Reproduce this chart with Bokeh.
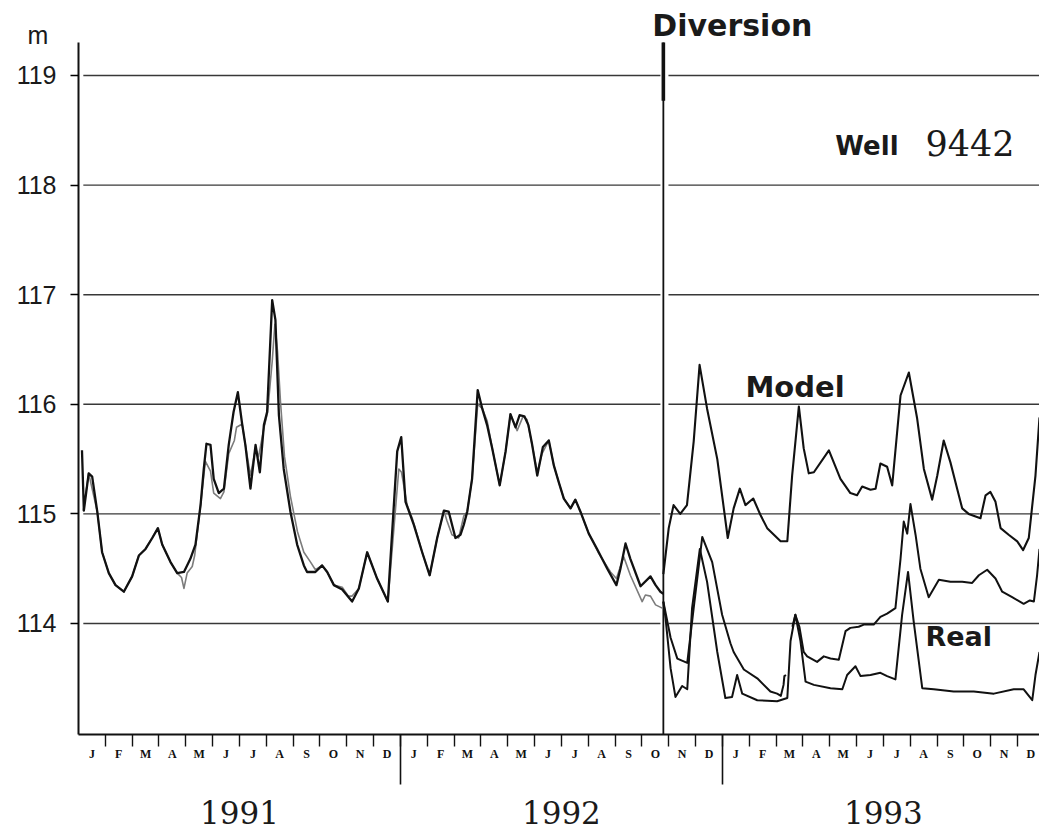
from bokeh.plotting import figure
from bokeh.models import Range1d, FixedTicker, LinearAxis
from bokeh.core.properties import value
from bokeh.embed import file_html
from bokeh.resources import INLINE

# Time axis: months elapsed since 1 January 1991; levels in metres
MONTH_LETTERS = ["J", "F", "M", "A", "M", "J", "J", "A", "S", "O", "N", "D"]
YEARS = ["1991", "1992", "1993"]
LEVEL_TICKS = [114, 115, 116, 117, 118, 119]
DIVERSION = 21.80          # damming of the river, late October 1992
T_START, T_END = 0.0, 35.82
LEVEL_BASE, LEVEL_TOP = 112.99, 119.30

# Before the diversion: simulated (dark) and measured (grey) levels
model_before = [
    (0.13, 115.58), (0.20, 115.03), (0.38, 115.37), (0.51, 115.34), (0.70, 115.02), (0.88, 114.65),
    (1.13, 114.46), (1.38, 114.35), (1.69, 114.29), (2.00, 114.43), (2.25, 114.62), (2.50, 114.68),
    (2.75, 114.78), (2.96, 114.87), (3.12, 114.72), (3.43, 114.56), (3.68, 114.46), (3.93, 114.47),
    (4.17, 114.59), (4.36, 114.72), (4.55, 115.08), (4.67, 115.41), (4.77, 115.64), (4.92, 115.63),
    (5.04, 115.32), (5.23, 115.19), (5.42, 115.23), (5.60, 115.63), (5.78, 115.93), (5.94, 116.11),
    (6.10, 115.82), (6.22, 115.63), (6.41, 115.23), (6.60, 115.63), (6.76, 115.38), (6.91, 115.81),
    (7.03, 115.93), (7.22, 116.95), (7.34, 116.77), (7.47, 115.90), (7.65, 115.41), (7.90, 115.02),
    (8.15, 114.72), (8.40, 114.53), (8.52, 114.47), (8.83, 114.47), (9.08, 114.53), (9.27, 114.47),
    (9.52, 114.35), (9.83, 114.31), (10.20, 114.20), (10.45, 114.32), (10.76, 114.65), (11.13, 114.41),
    (11.53, 114.20), (11.88, 115.57), (12.03, 115.70), (12.19, 115.11), (12.50, 114.90), (12.81, 114.65),
    (13.09, 114.44), (13.37, 114.78), (13.62, 115.03), (13.80, 115.02), (14.05, 114.78), (14.24, 114.81),
    (14.36, 114.90), (14.49, 115.02), (14.67, 115.32), (14.88, 116.13), (15.05, 115.96), (15.23, 115.81),
    (15.42, 115.60), (15.70, 115.26), (15.92, 115.57), (16.10, 115.91), (16.29, 115.79), (16.44, 115.90),
    (16.62, 115.89), (16.77, 115.81), (16.91, 115.63), (17.10, 115.35), (17.31, 115.61), (17.53, 115.67),
    (17.72, 115.44), (17.90, 115.29), (18.09, 115.14), (18.34, 115.05), (18.52, 115.13), (18.71, 115.02),
    (19.02, 114.82), (19.33, 114.68), (19.71, 114.50), (20.05, 114.35), (20.20, 114.50), (20.39, 114.73),
    (20.57, 114.59), (20.95, 114.34), (21.32, 114.43), (21.51, 114.35), (21.69, 114.29), (21.80, 114.27),
]

observed_before = [
    (0.18, 115.03), (0.38, 115.37), (0.70, 115.02), (0.88, 114.65), (1.13, 114.46), (1.38, 114.35),
    (1.69, 114.29), (2.00, 114.43), (2.25, 114.62), (2.50, 114.68), (2.96, 114.87), (3.12, 114.72),
    (3.43, 114.56), (3.68, 114.46), (3.84, 114.42), (3.93, 114.32), (4.05, 114.46), (4.24, 114.52),
    (4.33, 114.62), (4.55, 115.08), (4.73, 115.48), (4.92, 115.39), (5.04, 115.19), (5.29, 115.14),
    (5.42, 115.20), (5.60, 115.55), (5.81, 115.67), (5.89, 115.79), (6.10, 115.82), (6.22, 115.63),
    (6.41, 115.35), (6.60, 115.60), (6.71, 115.52), (6.91, 115.78), (7.05, 115.93), (7.22, 116.39),
    (7.32, 116.73), (7.42, 116.48), (7.53, 116.02), (7.68, 115.52), (7.90, 115.16), (8.16, 114.84),
    (8.40, 114.65), (8.65, 114.56), (8.83, 114.49), (9.08, 114.53), (9.27, 114.47), (9.52, 114.35),
    (9.83, 114.33), (10.06, 114.25), (10.20, 114.25), (10.45, 114.32), (10.76, 114.65), (11.13, 114.41),
    (11.53, 114.20), (11.94, 115.41), (12.04, 115.38), (12.25, 115.08), (12.44, 114.96), (12.81, 114.65),
    (13.09, 114.44), (13.37, 114.78), (13.62, 115.03), (13.73, 114.94), (13.92, 114.81), (14.17, 114.78),
    (14.36, 114.98), (14.49, 115.02), (14.67, 115.32), (14.88, 116.00), (15.05, 115.96), (15.23, 115.85),
    (15.42, 115.60), (15.70, 115.26), (15.92, 115.57), (16.10, 115.91), (16.35, 115.76), (16.57, 115.89),
    (16.72, 115.86), (16.91, 115.63), (17.10, 115.38), (17.28, 115.55), (17.53, 115.67), (17.72, 115.44),
    (17.90, 115.29), (18.09, 115.14), (18.34, 115.05), (18.52, 115.13), (18.71, 115.02), (19.02, 114.82),
    (19.39, 114.64), (19.83, 114.47), (20.05, 114.41), (20.32, 114.61), (20.57, 114.44), (21.01, 114.20),
    (21.13, 114.26), (21.32, 114.25), (21.51, 114.17), (21.76, 114.14),
]

# After the diversion
model_after = [
    (21.80, 114.45), (22.00, 114.87), (22.18, 115.08), (22.43, 115.00), (22.68, 115.08), (22.93, 115.66),
    (23.15, 116.36), (23.43, 115.96), (23.81, 115.50), (24.20, 114.78), (24.42, 115.05), (24.65, 115.23),
    (24.86, 115.08), (25.15, 115.14), (25.42, 114.99), (25.67, 114.87), (26.17, 114.75), (26.42, 114.75),
    (26.60, 115.35), (26.85, 115.98), (27.03, 115.60), (27.22, 115.37), (27.41, 115.38), (27.97, 115.58),
    (28.40, 115.32), (28.77, 115.19), (29.02, 115.17), (29.21, 115.25), (29.52, 115.22), (29.71, 115.23),
    (29.89, 115.46), (30.14, 115.43), (30.33, 115.26), (30.64, 116.08), (30.95, 116.29), (31.26, 115.87),
    (31.51, 115.41), (31.82, 115.13), (32.01, 115.35), (32.25, 115.67), (32.50, 115.47), (32.75, 115.23),
    (32.94, 115.05), (33.18, 115.00), (33.62, 114.96), (33.81, 115.17), (33.99, 115.20), (34.18, 115.11),
    (34.37, 114.87), (34.67, 114.81), (34.99, 114.75), (35.21, 114.67), (35.42, 114.78), (35.67, 115.35),
    (35.82, 115.88),
]

middle_after_early = [
    (21.80, 114.20), (22.07, 113.87), (22.32, 113.68), (22.69, 113.64), (22.93, 114.14), (23.25, 114.79),
    (23.62, 114.56), (23.99, 114.08), (24.30, 113.82), (24.42, 113.74), (24.80, 113.58), (25.30, 113.50),
    (25.79, 113.38), (26.04, 113.36), (26.18, 113.34), (26.28, 113.44), (26.31, 113.52), (26.37, 113.53),
]

middle_after_late = [
    (26.61, 113.97), (26.72, 114.08), (26.87, 113.97), (27.03, 113.74), (27.16, 113.70), (27.53, 113.65),
    (27.78, 113.70), (28.03, 113.68), (28.34, 113.67), (28.59, 113.93), (28.77, 113.96), (29.08, 113.97),
    (29.27, 113.99), (29.64, 113.99), (29.89, 114.06), (30.14, 114.09), (30.45, 114.14), (30.64, 114.59),
    (30.76, 114.93), (30.89, 114.82), (31.01, 115.09), (31.20, 114.81), (31.38, 114.50), (31.69, 114.24),
    (31.88, 114.32), (32.07, 114.40), (32.50, 114.38), (32.94, 114.38), (33.31, 114.37), (33.56, 114.44),
    (33.87, 114.49), (34.18, 114.41), (34.43, 114.29), (34.80, 114.24), (35.23, 114.18), (35.46, 114.21),
    (35.61, 114.20), (35.73, 114.44), (35.82, 114.68),
]

real_after = [
    (21.80, 114.20), (21.88, 114.05), (22.07, 113.59), (22.25, 113.33), (22.50, 113.43), (22.69, 113.40),
    (22.87, 114.14), (23.16, 114.68), (23.43, 114.38), (23.81, 113.74), (24.11, 113.32), (24.36, 113.33),
    (24.55, 113.53), (24.74, 113.36), (25.30, 113.30), (26.04, 113.29), (26.42, 113.32), (26.54, 113.84),
    (26.72, 114.08), (26.91, 113.84), (27.10, 113.47), (27.41, 113.44), (28.03, 113.41), (28.47, 113.40),
    (28.65, 113.53), (28.96, 113.61), (29.15, 113.52), (29.52, 113.53), (29.89, 113.55), (30.14, 113.52),
    (30.45, 113.49), (30.70, 114.08), (30.92, 114.47), (31.13, 114.02), (31.45, 113.41), (31.88, 113.40),
    (32.62, 113.38), (33.37, 113.38), (34.12, 113.36), (34.86, 113.40), (35.23, 113.40), (35.55, 113.30),
    (35.67, 113.53), (35.82, 113.74),
]


def unzip(pairs):
    xs, ys = zip(*pairs)
    return list(xs), list(ys)


# The frame spans the whole page; the axes sit at fixed data positions inside it.
p = figure(width=1039, height=833,
           x_range=Range1d(-2.907, T_END), y_range=Range1d(112.084, 119.684),
           x_axis_type=None, y_axis_type=None,
           output_backend="svg", toolbar_location=None,
           min_border_left=0, min_border_right=0, min_border_top=0, min_border_bottom=0,
           background_fill_color="white", border_fill_color="white")
p.outline_line_color = None

# level axis
yaxis = LinearAxis(ticker=FixedTicker(ticks=LEVEL_TICKS), bounds=(LEVEL_BASE, LEVEL_TOP),
                   fixed_location=T_START)
yaxis.axis_line_width = 2
yaxis.axis_line_color = "#111111"
yaxis.major_tick_out = 8
yaxis.major_tick_in = 0
yaxis.minor_tick_out = 0
yaxis.minor_tick_in = 0
yaxis.major_tick_line_width = 1.5
yaxis.major_label_standoff = 14
yaxis.major_label_text_font = "Liberation Sans"
yaxis.major_label_text_font_size = "25px"
yaxis.major_label_text_color = "#1a1a1a"
p.add_layout(yaxis, "left")

# month letters between monthly tick marks
month_centres = [k + 0.5 for k in range(36)]
month_edges = list(range(1, 36))
xaxis = LinearAxis(ticker=FixedTicker(ticks=month_centres, minor_ticks=month_edges),
                   major_label_overrides={c: MONTH_LETTERS[k % 12] for k, c in enumerate(month_centres)},
                   bounds=(T_START, T_END), fixed_location=LEVEL_BASE)
xaxis.axis_line_width = 2
xaxis.axis_line_color = "#111111"
xaxis.major_tick_out = 0
xaxis.major_tick_in = 0
xaxis.minor_tick_out = 12
xaxis.minor_tick_in = 0
xaxis.minor_tick_line_width = 1.4
xaxis.minor_tick_line_color = "#111111"
xaxis.major_label_standoff = 1
xaxis.major_label_text_font = "Liberation Serif"
xaxis.major_label_text_font_style = "bold"
xaxis.major_label_text_font_size = "12px"
xaxis.major_label_text_color = "#111111"
p.add_layout(xaxis, "below")

# year names with long year-boundary ticks
year_axis = LinearAxis(ticker=FixedTicker(ticks=[6, 18, 30], minor_ticks=[12, 24]),
                       major_label_overrides={6: YEARS[0], 18: YEARS[1], 30: YEARS[2]},
                       bounds=(T_START, T_END), fixed_location=LEVEL_BASE)
year_axis.axis_line_color = None
year_axis.major_tick_out = 0
year_axis.major_tick_in = 0
year_axis.minor_tick_in = 0
year_axis.minor_tick_out = 50
year_axis.minor_tick_line_width = 1.6
year_axis.minor_tick_line_color = "#111111"
year_axis.major_label_standoff = 17
year_axis.major_label_text_font = "DejaVu Serif"
year_axis.major_label_text_font_size = "31px"
year_axis.major_label_text_color = "#1a1a1a"
p.add_layout(year_axis, "below")

# horizontal reference lines, broken at the diversion marker
n = len(LEVEL_TICKS)
gx0 = [T_START + 0.18] * n + [DIVERSION + 0.19] * n
gx1 = [DIVERSION - 0.11] * n + [T_END] * n
gy = LEVEL_TICKS + LEVEL_TICKS
p.segment(x0=gx0, y0=gy, x1=gx1, y1=gy, line_color="#383838", line_width=1.4)

# diversion marker
p.segment(x0=[DIVERSION], y0=[LEVEL_BASE], x1=[DIVERSION], y1=[LEVEL_TOP], line_color="#111111", line_width=1.8)
p.segment(x0=[DIVERSION], y0=[118.77], x1=[DIVERSION], y1=[LEVEL_TOP], line_color="#111111", line_width=3.6)

# series
x, y = unzip(observed_before)
p.line(x, y, line_color="#7c7c7c", line_width=1.6, line_join="round")
x, y = unzip(model_before)
p.line(x, y, line_color="#111111", line_width=2.3, line_join="round")
x, y = unzip(model_after)
p.line(x, y, line_color="#111111", line_width=2.1, line_join="round")
x, y = unzip(middle_after_early)
p.line(x, y, line_color="#111111", line_width=2.0, line_join="round")
x, y = unzip(middle_after_late)
p.line(x, y, line_color="#111111", line_width=2.0, line_join="round")
x, y = unzip(real_after)
p.line(x, y, line_color="#111111", line_width=2.0, line_join="round")

# annotations
bold = dict(text_font=value("DejaVu Sans"), text_font_style="bold", text_color="#1a1a1a",
            text_align="left", text_baseline="alphabetic")
p.text(x=[DIVERSION - 0.41], y=[119.46], text=["Diversion"], text_font_size="30px", **bold)
p.text(x=[28.21], y=[118.36], text=["Well"], text_font_size="26px", **bold)
p.text(x=[24.86], y=[116.16], text=["Model"], text_font_size="29px", **bold)
p.text(x=[31.57], y=[113.88], text=["Real"], text_font_size="27px", **bold)
p.text(x=[31.57], y=[118.38], text=["9442"], text_font=value("DejaVu Serif"), text_font_size="35px",
       text_color="#1a1a1a", text_align="left", text_baseline="alphabetic")
p.text(x=[-1.90], y=[119.37], text=["m"], text_font=value("Liberation Sans"), text_font_size="25px",
       text_color="#1a1a1a", text_align="left", text_baseline="alphabetic")

open("out.html", "w").write(file_html(p, INLINE))
